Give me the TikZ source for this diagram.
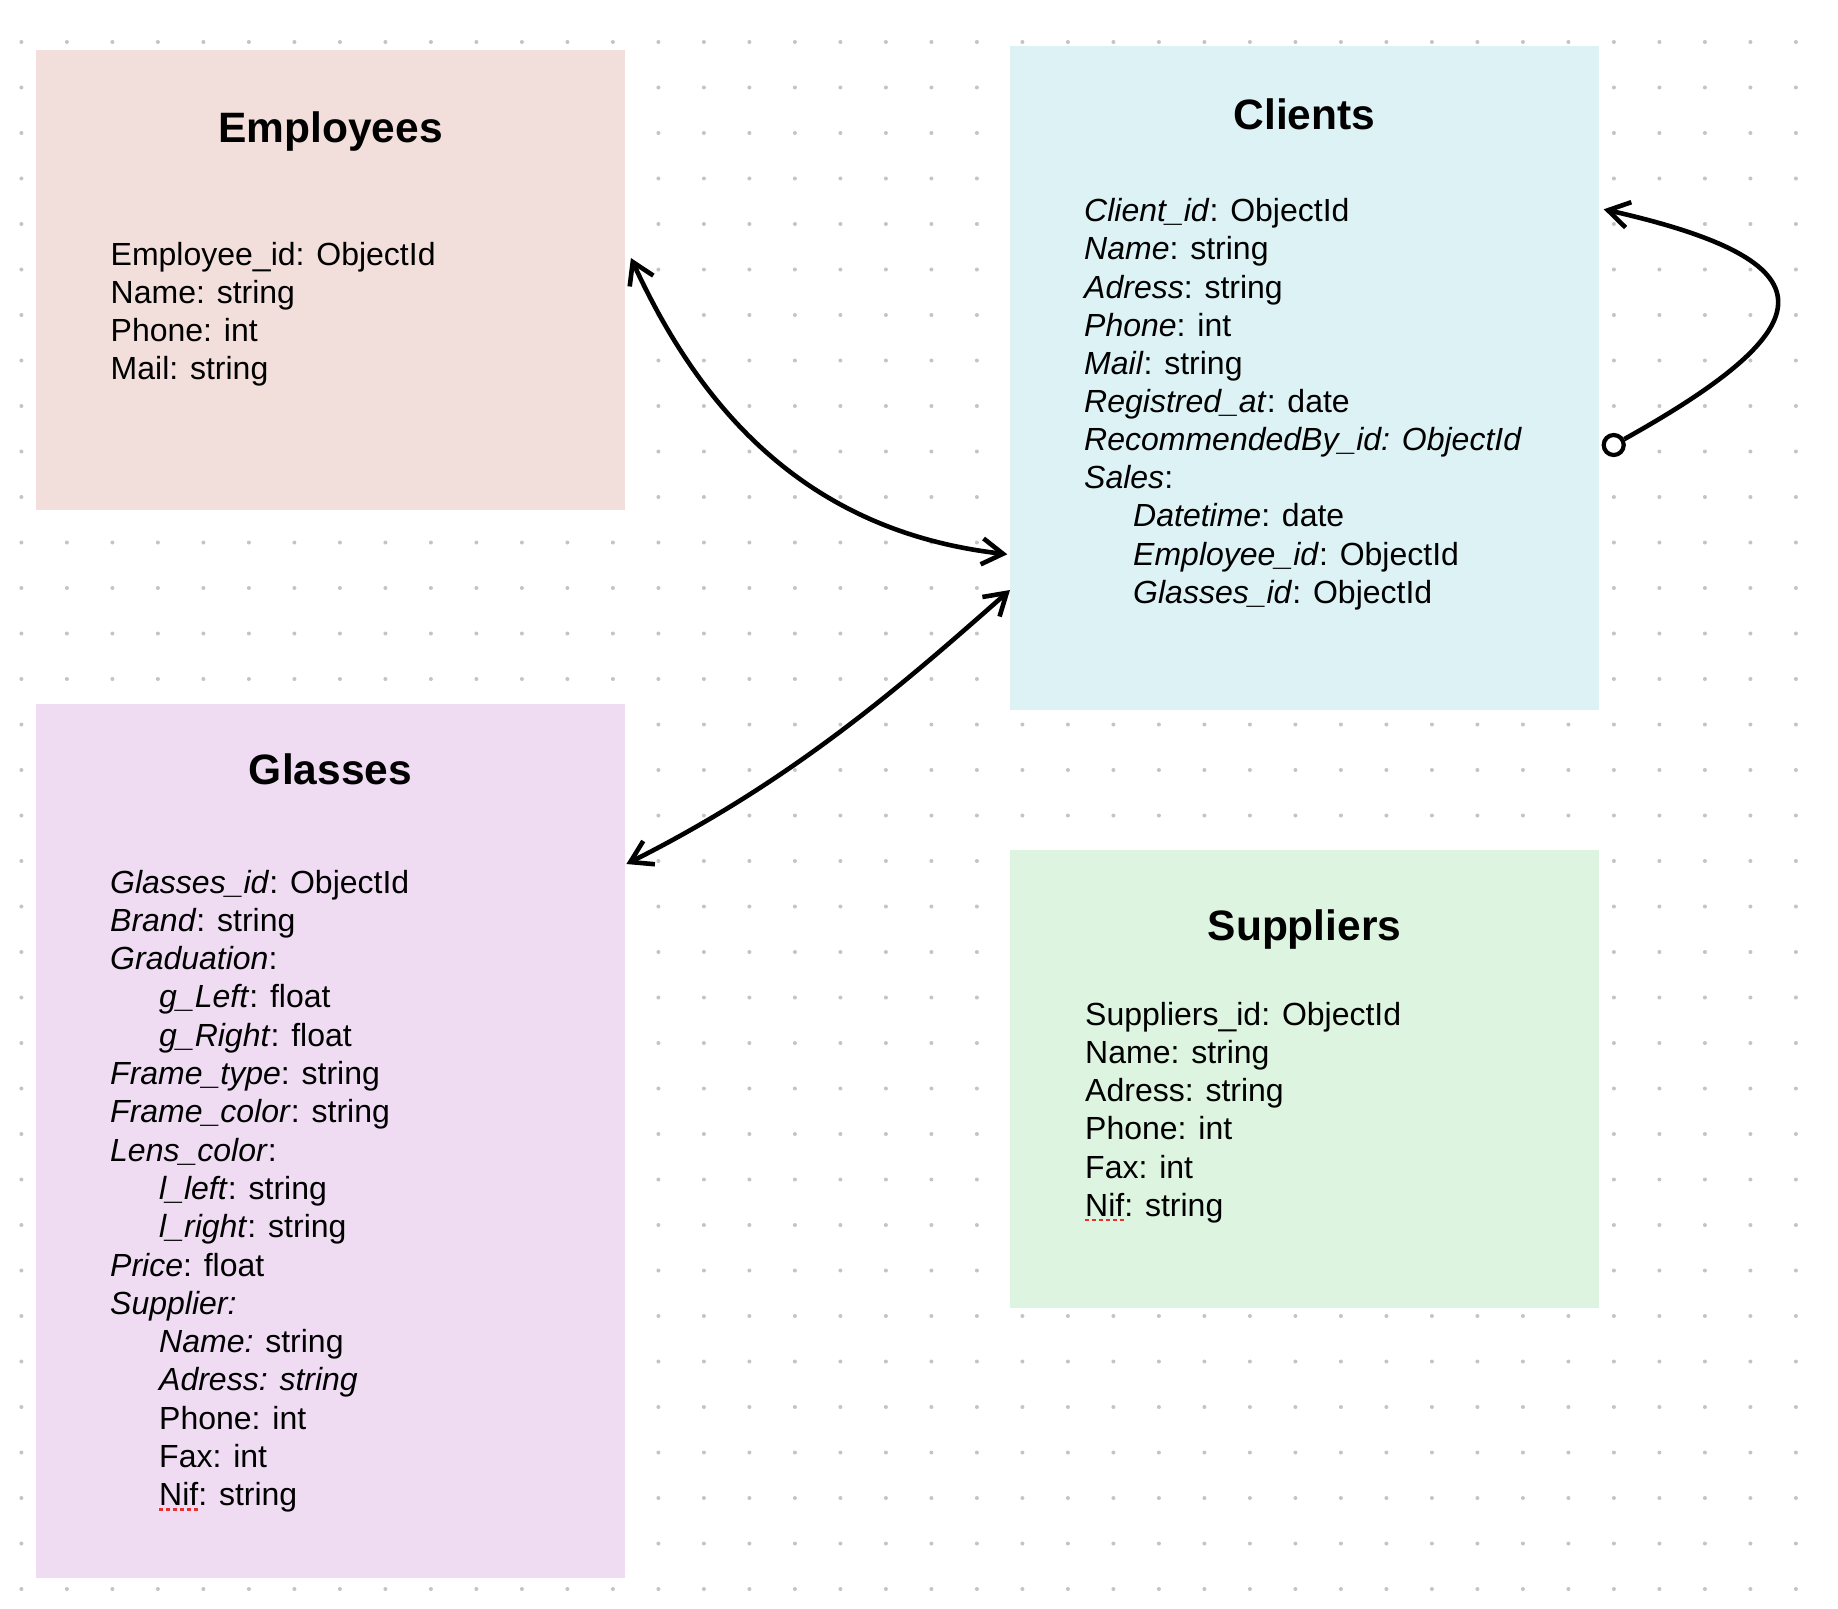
\documentclass[tikz,border=0pt]{standalone}
\usepackage{fontspec}
\setmainfont{Liberation Sans}
\usetikzlibrary{arrows.meta,calc}
\definecolor{empc}{HTML}{F2DFDC}
\definecolor{clic}{HTML}{DDF2F5}
\definecolor{glac}{HTML}{EFDCF3}
\definecolor{supc}{HTML}{DCF4E0}
\definecolor{dotc}{HTML}{C4C4C4}
\definecolor{spellc}{HTML}{E8302E}
\begin{document}
\begin{tikzpicture}[x=1pt,y=-1pt,
  box/.style={rectangle, draw=none, inner sep=0pt, anchor=north west},
  ttl/.style={inner sep=0pt, anchor=base, font=\fontsize{42.5}{50}\selectfont\bfseries},
  txt/.style={inner sep=0pt, anchor=base west, font=\fontsize{32}{38}\selectfont},
  conn/.style={line width=4.6pt, draw=black},
  both/.style={arrows={Straight Barb[length=21pt,width=26pt]-Straight Barb[length=21pt,width=26pt]}},
  endonly/.style={arrows={-Straight Barb[length=21pt,width=26pt]}},
  spell/.style={draw=spellc, line width=2.5pt, dash pattern=on 4pt off 3pt},
]
\path[use as bounding box] (0,0) rectangle (1838,1608);
\fill[white] (0,0) rectangle (1838,1608);
% dot grid
\foreach \i in {0,...,39}{\foreach \j in {0,...,34}{\fill[dotc] ({21.4+45.5*\i},{42+45.5*\j}) circle (2pt);}}
% boxes
\node[box, fill=empc, minimum width=589pt, minimum height=460pt] (emp) at (36,50) {};
\node[box, fill=clic, minimum width=589pt, minimum height=664pt] (cli) at (1010,46) {};
\node[box, fill=glac, minimum width=589pt, minimum height=874pt] (gla) at (36,704) {};
\node[box, fill=supc, minimum width=589pt, minimum height=458pt] (sup) at (1010,850) {};
% titles
\node[ttl] (empT) at (330.5,142.9) {Employees};
\node[ttl] (cliT) at (1304.5,130) {Clients};
\node[ttl] (glaT) at (330.5,784) {Glasses};
\node[ttl] (supT) at (1304.5,940) {Suppliers};
% employees
\foreach \d/\t [count=\i] in {0/{Employee\_id: ObjectId},0/{Name: string},0/{Phone: int},0/{Mail: string}}
  {\node[txt] (emp\i) at ({110.5+49*\d},{265+38.2*(\i-1)}) {\t};}
% clients
\foreach \d/\t [count=\i] in {
  0/{\textit{Client\_id}: ObjectId},
  0/{\textit{Name}: string},
  0/{\textit{Adress}: string},
  0/{\textit{Phone}: int},
  0/{\textit{Mail}: string},
  0/{\textit{Registred\_at}: date},
  0/{\textit{RecommendedBy\_id: ObjectId}},
  0/{\textit{Sales}:},
  1/{\textit{Datetime}: date},
  1/{\textit{Employee\_id}: ObjectId},
  1/{\textit{Glasses\_id}: ObjectId}}
  {\node[txt] (cli\i) at ({1084+49*\d},{221.7+38.15*(\i-1)}) {\t};}
% glasses
\foreach \d/\t [count=\i] in {
  0/{\textit{Glasses\_id}: ObjectId},
  0/{\textit{Brand}: string},
  0/{\textit{Graduation}:},
  1/{\textit{g\_Left}: float},
  1/{\textit{g\_Right}: float},
  0/{\textit{Frame\_type}: string},
  0/{\textit{Frame\_color}: string},
  0/{\textit{Lens\_color}:},
  1/{\textit{l\_left}: string},
  1/{\textit{l\_right}: string},
  0/{\textit{Price}: float},
  0/{\textit{Supplier:}},
  1/{\textit{Name:} string},
  1/{\textit{Adress: string}},
  1/{Phone: int},
  1/{Fax: int},
  1/{Nif: string}}
  {\node[txt] (gla\i) at ({110+49*\d},{893+38.3*(\i-1)}) {\t};}
% suppliers
\foreach \d/\t [count=\i] in {0/{Suppliers\_id: ObjectId},0/{Name: string},0/{Adress: string},0/{Phone: int},0/{Fax: int},0/{Nif: string}}
  {\node[txt] (sup\i) at ({1085+49*\d},{1025+38.25*(\i-1)}) {\t};}
% spell-check underlines
\draw[spell] ($(gla17.base west)+(0,3.5)$) -- ++(41,0);
\draw[spell] ($(sup6.base west)+(0,3.5)$) -- ++(41,0);
% connectors
\draw[conn, both] ($(emp.north east)+(5.5,208)$) .. controls (702,412.5) and (808.7,531.5) .. ($(cli.north west)+(-2.7,508.3)$);
\draw[conn, both] ($(gla.north east)+(1,160)$) .. controls (795.9,778.9) and (905,682.4) .. ($(cli.north west)+(0,544)$);
\node[circle, draw=black, line width=4.2pt, fill=white, minimum size=20pt, inner sep=0pt] (rec) at ($(cli.north east)+(14.3,399)$) {};
\draw[conn, endonly] (rec) .. controls (1829,325) and (1834.6,261.4) .. ($(cli.north east)+(4.3,163.3)$);
\end{tikzpicture}
\end{document}
